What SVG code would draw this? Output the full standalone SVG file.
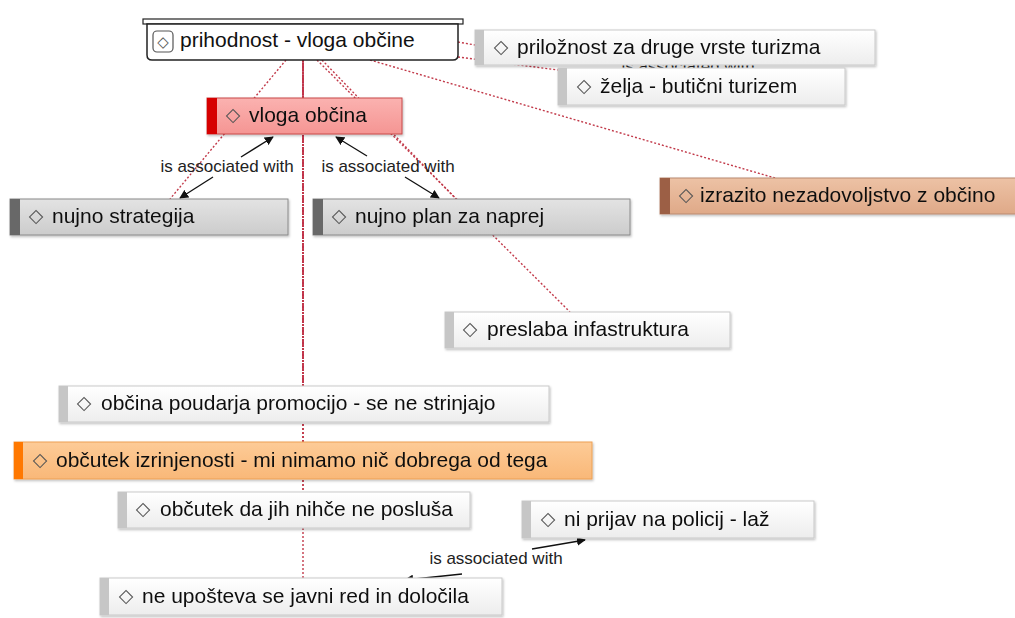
<svg xmlns="http://www.w3.org/2000/svg" width="1015" height="618" viewBox="0 0 1015 618">
<style>
.t{font-family:"Liberation Sans",Arial,sans-serif;font-size:21px;fill:#111}
.d{font-family:"DejaVu Sans",sans-serif;font-size:19px;fill:#555}
.lbl{font-family:"Liberation Sans",Arial,sans-serif;font-size:17px;fill:#222}
.dot{stroke:#c23a4a;stroke-width:1.4;stroke-dasharray:2 2;fill:none}
.dense{stroke:#c0304a;stroke-width:2;stroke-dasharray:2 1;fill:none}
.solid{stroke:#b8304a;stroke-width:1.6;fill:none}
.assoc{stroke:#111;stroke-width:1.3;fill:none;marker-end:url(#arr)}
.w{fill:url(#gw);stroke:#c9c9c9;stroke-width:1}
.wb{fill:#c6c6c6}
.g{fill:url(#gg);stroke:#8a8a8a;stroke-width:1}
.gb{fill:#686868}
.p{fill:url(#gp);stroke:#c84848;stroke-width:1}
.pb{fill:#d60000}
.pe{fill:url(#gpe);stroke:#b98a70;stroke-width:1}
.peb{fill:#9c5e45}
.o{fill:url(#go);stroke:#eda055;stroke-width:1}
.ob{fill:#ff7800}
.node{filter:url(#sh)}
</style>
<defs>
<linearGradient id="gw" x1="0" y1="0" x2="0" y2="1"><stop offset="0" stop-color="#ffffff"/><stop offset="1" stop-color="#ededed"/></linearGradient>
<linearGradient id="gg" x1="0" y1="0" x2="0" y2="1"><stop offset="0" stop-color="#e3e3e3"/><stop offset="1" stop-color="#cccccc"/></linearGradient>
<linearGradient id="gp" x1="0" y1="0" x2="0" y2="1"><stop offset="0" stop-color="#fbb2b0"/><stop offset="1" stop-color="#f59593"/></linearGradient>
<linearGradient id="gpe" x1="0" y1="0" x2="0" y2="1"><stop offset="0" stop-color="#edc2a5"/><stop offset="1" stop-color="#dfa988"/></linearGradient>
<linearGradient id="go" x1="0" y1="0" x2="0" y2="1"><stop offset="0" stop-color="#fdcb97"/><stop offset="1" stop-color="#f9b878"/></linearGradient>
<filter id="sh" x="-5%" y="-20%" width="110%" height="150%"><feDropShadow dx="1" dy="1.5" stdDeviation="1.2" flood-color="#000" flood-opacity="0.25"/></filter>
<marker id="arr" viewBox="0 0 10 10" refX="9" refY="5" markerWidth="9" markerHeight="9" markerUnits="userSpaceOnUse" orient="auto"><path d="M0,0 L10,5 L0,10 z" fill="#111"/></marker>
</defs>

<g id="connectors">
<line class="solid" x1="303" y1="60" x2="303" y2="98"/>
<line class="dense" x1="303" y1="60" x2="303" y2="386"/>
<line class="dot" x1="303" y1="60" x2="303" y2="442"/>
<line class="dot" x1="303" y1="60" x2="303" y2="492"/>
<line class="dot" x1="303" y1="60" x2="303" y2="578"/>
<line class="dot" x1="286" y1="60" x2="170" y2="199"/>
<line class="dot" x1="322" y1="60" x2="456" y2="199"/>
<line class="dot" x1="317" y1="60" x2="570" y2="312"/>
<line class="dot" x1="370" y1="60" x2="775" y2="178"/>
<line class="dot" x1="458" y1="42" x2="475" y2="45"/>
<line class="dot" x1="458" y1="57" x2="558" y2="70"/>
<text class="lbl" x="688" y="72" text-anchor="middle">is associated with</text>
<line class="assoc" x1="241" y1="157" x2="273" y2="137"/>
<line class="assoc" x1="213" y1="177" x2="180" y2="198"/>
<text class="lbl" x="227" y="172" text-anchor="middle">is associated with</text>
<line class="assoc" x1="367" y1="156" x2="336" y2="137"/>
<line class="assoc" x1="405" y1="177" x2="439" y2="198"/>
<text class="lbl" x="388" y="172" text-anchor="middle">is associated with</text>
<line class="assoc" x1="532" y1="549" x2="585" y2="540"/>
<line class="assoc" x1="462" y1="574" x2="405" y2="580"/>
<text class="lbl" x="496" y="564" text-anchor="middle">is associated with</text>
</g>

<g id="n-root">
<rect x="143" y="19" width="320" height="5" fill="#fff" stroke="#222" stroke-width="1.2"/>
<path d="M147,24 H458 V55 Q458,60 453,60 H152 Q147,60 147,55 Z" fill="#fff" stroke="#222" stroke-width="1.5"/>
<rect x="153" y="31" width="20" height="21" rx="4" fill="#fff" stroke="#555" stroke-width="1.2"/>
<text class="d" x="163" y="47" text-anchor="middle" style="font-size:15px">◇</text>
<text class="t" x="180" y="47">prihodnost - vloga občine</text>
</g>

<g id="n-priloznost" class="node">
<rect class="w" x="475" y="30" width="400" height="35"/>
<rect class="wb" x="475" y="30" width="9" height="35"/>
<text class="d" x="501" y="53" text-anchor="middle">◇</text>
<text class="t" x="517" y="54">priložnost za druge vrste turizma</text>
</g>

<g id="n-zelja" class="node">
<rect class="w" x="558" y="68" width="287" height="37"/>
<rect class="wb" x="558" y="68" width="9" height="37"/>
<text class="d" x="584" y="92" text-anchor="middle">◇</text>
<text class="t" x="600" y="93">želja - butični turizem</text>
</g>

<g id="n-vloga" class="node">
<rect class="p" x="207" y="98" width="195" height="36"/>
<rect class="pb" x="207" y="98" width="10" height="36"/>
<text class="d" x="233" y="121" text-anchor="middle">◇</text>
<text class="t" x="249" y="122">vloga občina</text>
</g>

<g id="n-strategija" class="node">
<rect class="g" x="10" y="199" width="278" height="36"/>
<rect class="gb" x="10" y="199" width="10" height="36"/>
<text class="d" x="36" y="222" text-anchor="middle">◇</text>
<text class="t" x="52" y="223">nujno strategija</text>
</g>

<g id="n-plan" class="node">
<rect class="g" x="313" y="199" width="317" height="36"/>
<rect class="gb" x="313" y="199" width="10" height="36"/>
<text class="d" x="339" y="222" text-anchor="middle">◇</text>
<text class="t" x="355" y="223">nujno plan za naprej</text>
</g>

<g id="n-izrazito" class="node">
<rect class="pe" x="660" y="178" width="356" height="36"/>
<rect class="peb" x="660" y="178" width="10" height="36"/>
<text class="d" x="686" y="201" text-anchor="middle">◇</text>
<text class="t" x="700" y="202">izrazito nezadovoljstvo z občino</text>
</g>

<g id="n-preslaba" class="node">
<rect class="w" x="445" y="312" width="285" height="36"/>
<rect class="wb" x="445" y="312" width="9" height="36"/>
<text class="d" x="470" y="335" text-anchor="middle">◇</text>
<text class="t" x="487" y="336">preslaba infastruktura</text>
</g>

<g id="n-obcina" class="node">
<rect class="w" x="59" y="386" width="490" height="36"/>
<rect class="wb" x="59" y="386" width="9" height="36"/>
<text class="d" x="84" y="409" text-anchor="middle">◇</text>
<text class="t" x="101" y="410">občina poudarja promocijo - se ne strinjajo</text>
</g>

<g id="n-izrinjenost" class="node">
<rect class="o" x="14" y="442" width="578" height="37"/>
<rect class="ob" x="14" y="442" width="9" height="37"/>
<text class="d" x="40" y="466" text-anchor="middle">◇</text>
<text class="t" x="56" y="467">občutek izrinjenosti - mi nimamo nič dobrega od tega</text>
</g>

<g id="n-dajih" class="node">
<rect class="w" x="118" y="492" width="352" height="36"/>
<rect class="wb" x="118" y="492" width="9" height="36"/>
<text class="d" x="143" y="515" text-anchor="middle">◇</text>
<text class="t" x="160" y="516">občutek da jih nihče ne posluša</text>
</g>

<g id="n-prijav" class="node">
<rect class="w" x="522" y="501" width="292" height="37"/>
<rect class="wb" x="522" y="501" width="9" height="37"/>
<text class="d" x="548" y="525" text-anchor="middle">◇</text>
<text class="t" x="564" y="526">ni prijav na policij - laž</text>
</g>

<g id="n-upostevanje" class="node">
<rect class="w" x="100" y="578" width="402" height="37"/>
<rect class="wb" x="100" y="578" width="9" height="37"/>
<text class="d" x="126" y="602" text-anchor="middle">◇</text>
<text class="t" x="142" y="603">ne upošteva se javni red in določila</text>
</g>
</svg>
